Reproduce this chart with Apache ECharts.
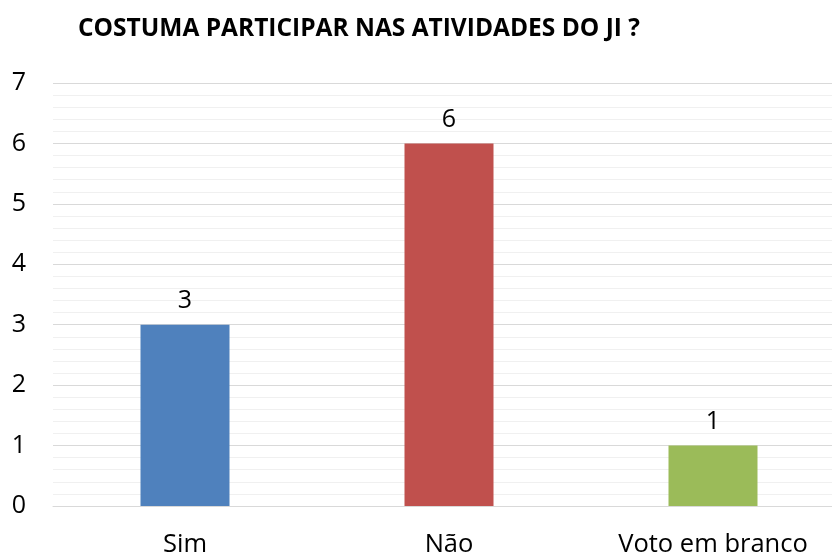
<!DOCTYPE html>
<html>
<head>
<meta charset="utf-8">
<script src="https://cdn.jsdelivr.net/npm/echarts@6/dist/echarts.min.js"></script>
<style>
  html, body { margin: 0; padding: 0; background: #fff; }
  #chart { width: 832px; height: 556px; }
</style>
</head>
<body>
<div id="chart"></div>
<script>
var categories = ["Sim", "Não", "Voto em branco"];
var values = [3, 6, 1];
var barColors = ["#4F81BD", "#C0504D", "#9BBB59"];
var titleText = "COSTUMA PARTICIPAR NAS ATIVIDADES DO JI ?";

var chart = echarts.init(document.getElementById("chart"));

var option = {
  animation: false,
  title: {
    text: titleText,
    left: 78,
    top: 17,
    padding: 0,
    textStyle: {
      fontFamily: "Open Sans",
      fontWeight: "bold",
      fontSize: 24.5,
      color: "#000"
    }
  },
  grid: {
    left: 53,
    width: 792,
    top: 83,
    bottom: 50,
    outerBoundsMode: "none"
  },
  xAxis: {
    type: "category",
    data: categories,
    axisLine: { show: true, lineStyle: { color: "#d9d9d9", width: 1 } },
    axisTick: { show: false },
    axisLabel: {
      color: "#000",
      fontFamily: "Open Sans",
      fontSize: 25.5,
      margin: 26
    }
  },
  yAxis: {
    type: "value",
    min: 0,
    max: 7,
    interval: 1,
    axisLine: { show: false },
    axisTick: { show: false },
    axisLabel: {
      color: "#000",
      fontFamily: "Open Sans",
      fontSize: 25,
      margin: 34,
      align: "center"
    },
    splitLine: { lineStyle: { color: "#d9d9d9", width: 1 } },
    minorTick: { show: false, splitNumber: 5 },
    minorSplitLine: { show: true, lineStyle: { color: "#f0f0f0", width: 1 } }
  },
  series: [{
    type: "bar",
    barWidth: 89,
    data: values.map(function (v, i) {
      return { value: v, itemStyle: { color: barColors[i] } };
    }),
    label: {
      show: true,
      position: "top",
      distance: 11,
      color: "#000",
      fontFamily: "Open Sans",
      fontSize: 25
    }
  }]
};

chart.setOption(option);
</script>
</body>
</html>
